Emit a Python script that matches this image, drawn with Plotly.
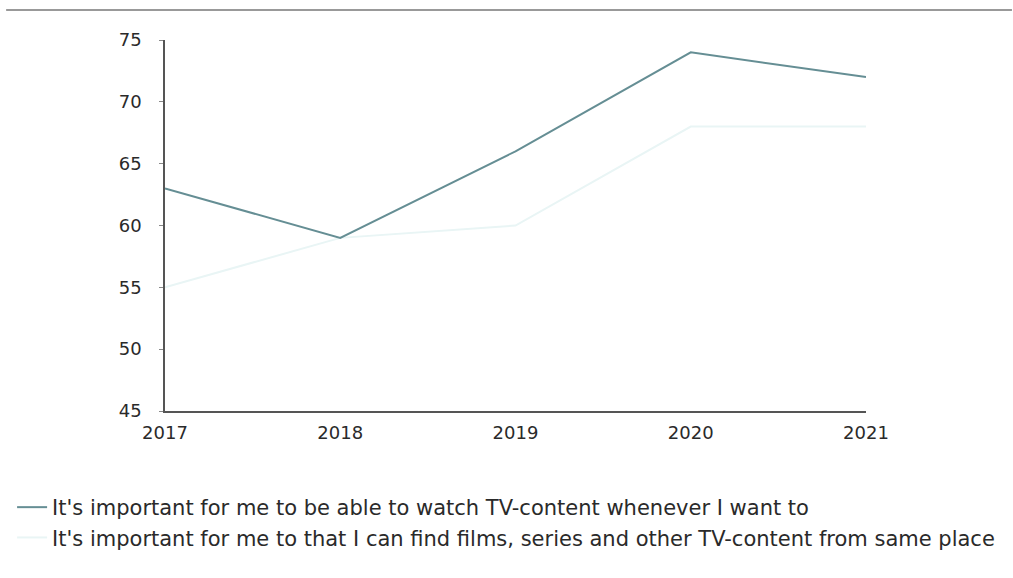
import plotly.graph_objects as go

years = ["2017", "2018", "2019", "2020", "2021"]
watch_whenever = [63, 59, 66, 74, 72]
same_place = [55, 59, 60, 68, 68]
name1 = "It's important for me to be able to watch TV-content whenever I want to"
name2 = "It's important for me to that I can find films, series and other TV-content from same place"

fig = go.Figure()
fig.add_trace(go.Scatter(x=[0, 1, 2, 3, 4], y=same_place, mode="lines", name=name2,
                         line=dict(color="#e9f5f5", width=2)))
fig.add_trace(go.Scatter(x=[0, 1, 2, 3, 4], y=watch_whenever, mode="lines", name=name1,
                         line=dict(color="#658e94", width=2)))

W, H = 1013, 578
L, R, T, B = 160, 147, 40, 167
pw, ph = W - L - R, H - T - B

FONT = "DejaVu Sans, sans-serif"
fig.update_layout(
    width=W, height=H,
    margin=dict(l=L, r=R, t=T, b=B),
    paper_bgcolor="white", plot_bgcolor="white",
    font=dict(family=FONT, size=18, color="#2a2a2a"),
    showlegend=True,
    legend=dict(x=(6 - L) / pw, y=(T + ph - 487) / ph, xanchor="left", yanchor="top",
                traceorder="reversed", font=dict(family=FONT, size=21, color="#2a2a2a"),
                bgcolor="rgba(0,0,0,0)", itemwidth=30, tracegroupgap=0),
    xaxis=dict(range=[0, 4], tickmode="array", tickvals=[0, 1, 2, 3, 4], ticktext=years,
               showline=True, linecolor="#555", linewidth=1.5, showgrid=False,
               zeroline=False, ticks="", ticklabelstandoff=5,
               tickfont=dict(family=FONT, size=18, color="#2a2a2a")),
    yaxis=dict(range=[45, 75], tickvals=[45, 50, 55, 60, 65, 70, 75],
               showline=True, linecolor="#555", linewidth=1.5, showgrid=False,
               zeroline=False, ticks="outside", ticklen=4, tickcolor="#888",
               ticklabelstandoff=14,
               tickfont=dict(family=FONT, size=18, color="#2a2a2a")),
)
fig.add_shape(type="line", xref="paper", yref="paper",
              x0=-L / pw, x1=(W - L) / pw,
              y0=(T + ph - 10) / ph, y1=(T + ph - 10) / ph,
              line=dict(color="#999", width=2))
fig.write_html("out.html")
